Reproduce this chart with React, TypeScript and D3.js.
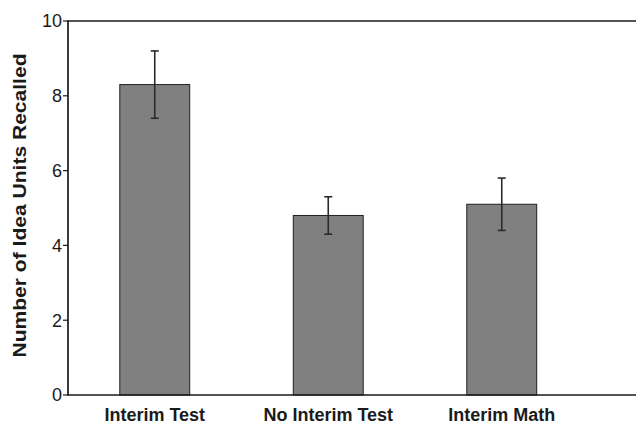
import React, {useEffect, useRef} from "react";
import * as d3 from "d3";

const categories = ["Interim Test", "No Interim Test", "Interim Math"];
const means = [8.3, 4.8, 5.1];
const errors = [0.9, 0.5, 0.7];
const yTicks = [0, 2, 4, 6, 8, 10];
const yTitle = "Number of Idea Units Recalled";

const App = () => {

    const ref = useRef<SVGSVGElement>(null);

    useEffect(() => {
        const w = 636;
        const h = 423;
        const left = 68, top = 21, bottom = 395;

        const svg = d3.select(ref.current)
            .attr("width", w)
            .attr("height", h);

        svg.selectAll("*").remove();

        const xScale = d3.scaleBand()
            .domain(categories)
            .range([left, 588.5])
            .paddingInner(0.597)
            .paddingOuter(0.2985);

        const yScale = d3.scaleLinear()
            .domain([0, 10])
            .range([bottom, top]);

        // bars
        svg.selectAll("rect.bar")
            .data(categories)
            .enter()
            .append("rect")
            .attr("class", "bar")
            .attr("x", d => xScale(d)!)
            .attr("y", (d, i) => yScale(means[i]))
            .attr("width", xScale.bandwidth())
            .attr("height", (d, i) => yScale(0) - yScale(means[i]))
            .attr("fill", "#808080")
            .attr("stroke", "#1f1f1f")
            .attr("stroke-width", 1);

        // error bars
        const eb = svg.selectAll("g.err")
            .data(categories)
            .enter()
            .append("g")
            .attr("class", "err")
            .attr("stroke", "#2a2a2a")
            .attr("stroke-width", 1.6);
        const cx = (d: string) => xScale(d)! + xScale.bandwidth() / 2;
        eb.append("line")
            .attr("x1", cx).attr("x2", cx)
            .attr("y1", (d, i) => yScale(means[i] + errors[i]))
            .attr("y2", (d, i) => yScale(means[i] - errors[i]));
        eb.append("line")
            .attr("x1", d => cx(d) - 4).attr("x2", d => cx(d) + 4)
            .attr("y1", (d, i) => yScale(means[i] + errors[i]))
            .attr("y2", (d, i) => yScale(means[i] + errors[i]));
        eb.append("line")
            .attr("x1", d => cx(d) - 4).attr("x2", d => cx(d) + 4)
            .attr("y1", (d, i) => yScale(means[i] - errors[i]))
            .attr("y2", (d, i) => yScale(means[i] - errors[i]));

        // frame: left, top, bottom
        const frame = svg.append("g")
            .attr("stroke", "#1a1a1a")
            .attr("stroke-width", 1.7)
            .attr("fill", "none");
        frame.append("path")
            .attr("d", `M${w},${top}H${left}V${bottom}H${w}`);

        // y ticks
        frame.selectAll("line.tick")
            .data(yTicks)
            .enter()
            .append("line")
            .attr("x1", left - 5)
            .attr("x2", left)
            .attr("y1", d => yScale(d))
            .attr("y2", d => yScale(d))
            .attr("stroke-width", 1.2);

        svg.selectAll("text.ytick")
            .data(yTicks)
            .enter()
            .append("text")
            .attr("x", left - 6)
            .attr("y", d => yScale(d))
            .attr("dy", "0.36em")
            .attr("text-anchor", "end")
            .attr("font-family", "Liberation Sans, Arial, sans-serif")
            .attr("font-size", 18)
            .attr("fill", "#1a1a1a")
            .text(d => d);

        // x labels
        svg.selectAll("text.xlab")
            .data(categories)
            .enter()
            .append("text")
            .attr("x", cx)
            .attr("y", 420.5)
            .attr("text-anchor", "middle")
            .attr("font-family", "Liberation Sans, Arial, sans-serif")
            .attr("font-weight", "bold")
            .attr("font-size", 18)
            .attr("fill", "#1a1a1a")
            .text(d => d);

        // y title
        svg.append("text")
            .attr("transform", `translate(26,205.5) rotate(-90)`)
            .attr("text-anchor", "middle")
            .attr("font-family", "Liberation Sans, Arial, sans-serif")
            .attr("font-weight", "bold")
            .attr("font-size", 18)
            .attr("textLength", 304)
            .attr("lengthAdjust", "spacingAndGlyphs")
            .attr("fill", "#1a1a1a")
            .text(yTitle);
    }, [])

    return (
        <svg ref={ref} style={{position: "absolute", left: 0, top: 0, background: "#fff"}}></svg>
    )
};

export default App;
